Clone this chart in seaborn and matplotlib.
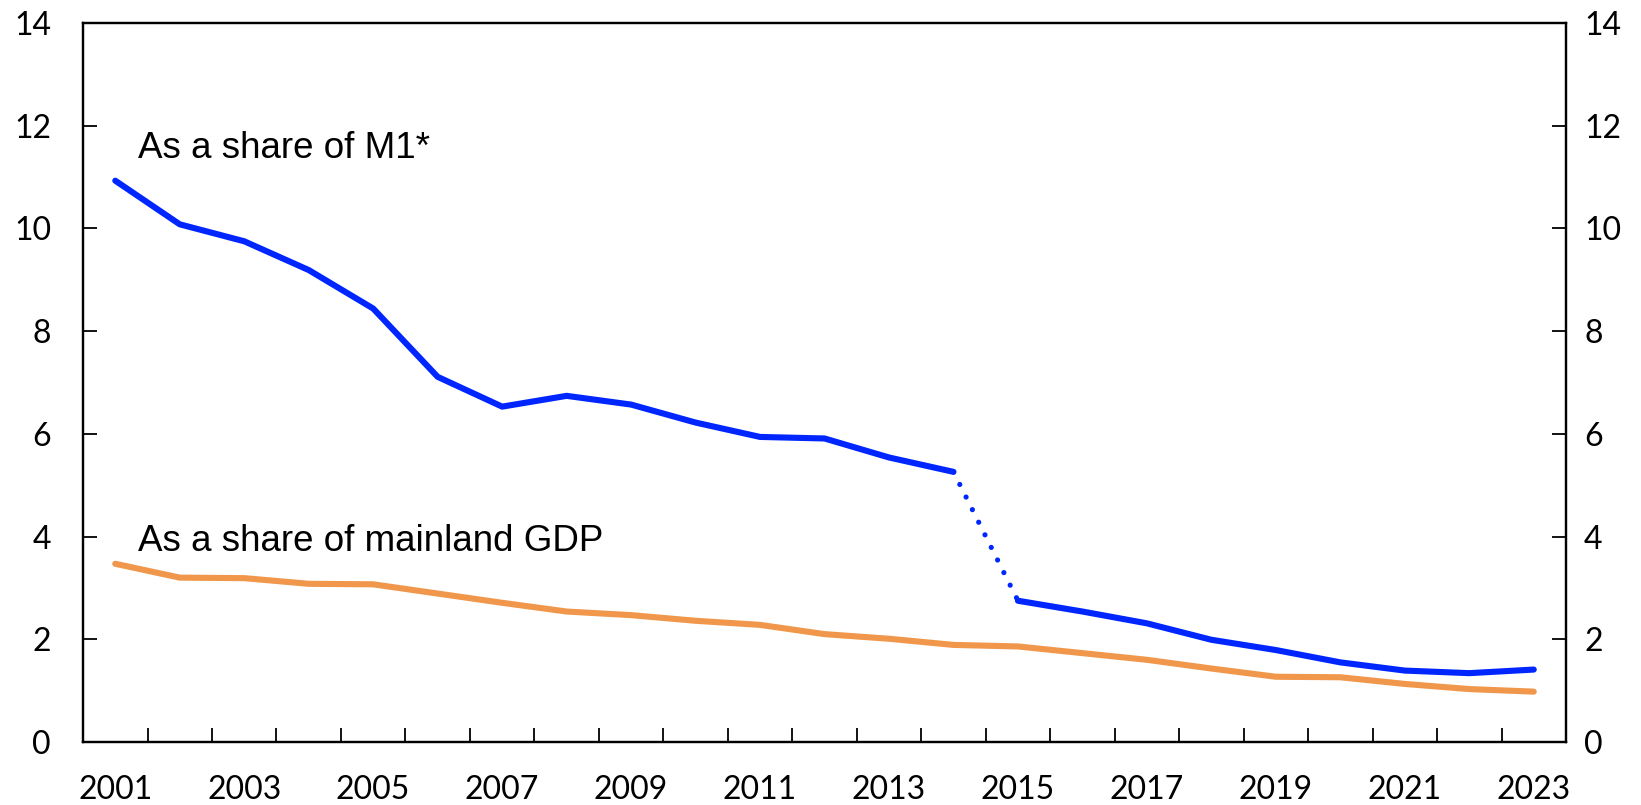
"""Recreate the M1 / mainland GDP share chart."""

import matplotlib
matplotlib.use("Agg")
import matplotlib.pyplot as plt
import numpy as np
import pandas as pd
import seaborn as sns

years = list(range(2001, 2024))
share_m1 = [10.93, 10.08, 9.75, 9.19, 8.44, 7.11, 6.53, 6.74, 6.57, 6.22, 5.94,
            5.91, 5.54, 5.26, 2.75, 2.54, 2.31, 1.99, 1.79, 1.55, 1.39, 1.34, 1.41]
share_gdp = [3.47, 3.20, 3.19, 3.08, 3.07, 2.89, 2.71, 2.54, 2.47, 2.36, 2.28,
             2.10, 2.01, 1.89, 1.86, 1.73, 1.60, 1.43, 1.27, 1.26, 1.13, 1.03, 0.98]
break_year = 2015

BLUE = "#0026FF"
ORANGE = "#F0974B"

df = pd.DataFrame({"year": years, "m1": share_m1, "gdp": share_gdp})
before = df[df["year"] < break_year]
after = df[df["year"] >= break_year]
bridge = df[df["year"].isin([break_year - 1, break_year])]

sns.set_theme(style="white")
plt.rcParams["font.family"] = ["Lato", "DejaVu Sans"]
plt.rcParams["text.color"] = "black"
plt.rcParams["xtick.color"] = "black"
plt.rcParams["ytick.color"] = "black"

fig = plt.figure(figsize=(16.41, 8.05), dpi=100)
ax = fig.add_axes([0.0506, 0.0783, 0.9037, 0.8931])

lw = 4.4
sns.lineplot(data=df, x="year", y="gdp", color=ORANGE, linewidth=lw, ax=ax)
sns.lineplot(data=before, x="year", y="m1", color=BLUE, linewidth=lw, ax=ax)
sns.lineplot(data=after, x="year", y="m1", color=BLUE, linewidth=lw, ax=ax)
# break in the M1 series: dotted bridge between 2014 and 2015
sns.lineplot(data=bridge, x="year", y="m1", color=BLUE, linewidth=lw * 0.85, ax=ax,
             linestyle=(0, (0.01, 2.7)), dash_capstyle="round")
for line in ax.lines:
    line.set_solid_capstyle("round")

ax.set_xlim(years[0] - 0.5, years[-1] + 0.5)
ax.set_ylim(0, 14)
ax.set_xlabel("")
ax.set_ylabel("")

ax.set_xticks(years[::2])
ax.set_xticklabels([str(y) for y in years[::2]])
ax.set_xticks(np.array(years[:-1]) + 0.5, minor=True)
ax.tick_params(axis="x", which="major", length=0, pad=24, labelsize=23)
ax.tick_params(axis="x", which="minor", length=10, width=1.3, direction="in",
               color="black", bottom=True)

yticks = list(range(0, 15, 2))
ax.set_yticks(yticks)
ax.tick_params(axis="y", length=10, width=1.3, direction="in", pad=23,
               labelsize=23, left=True, color="black")

ax2 = ax.twinx()
ax2.set_ylim(0, 14)
ax2.set_yticks(yticks)
ax2.tick_params(axis="y", length=10, width=1.3, direction="in", pad=13,
                labelsize=23, right=True, color="black")
ax2.grid(False)

for a in (ax, ax2):
    for spine in a.spines.values():
        spine.set_color("black")
        spine.set_linewidth(1.6)
        spine.set_visible(True)

ax.text(2001.36, 11.37, "As a share of M1*", fontsize=26.5, color="black",
        family="Liberation Sans", va="baseline", ha="left")
ax.text(2001.36, 3.71, "As a share of mainland GDP", fontsize=26.5, color="black",
        family="Liberation Sans", va="baseline", ha="left")

fig.savefig("out.png", dpi=100)
